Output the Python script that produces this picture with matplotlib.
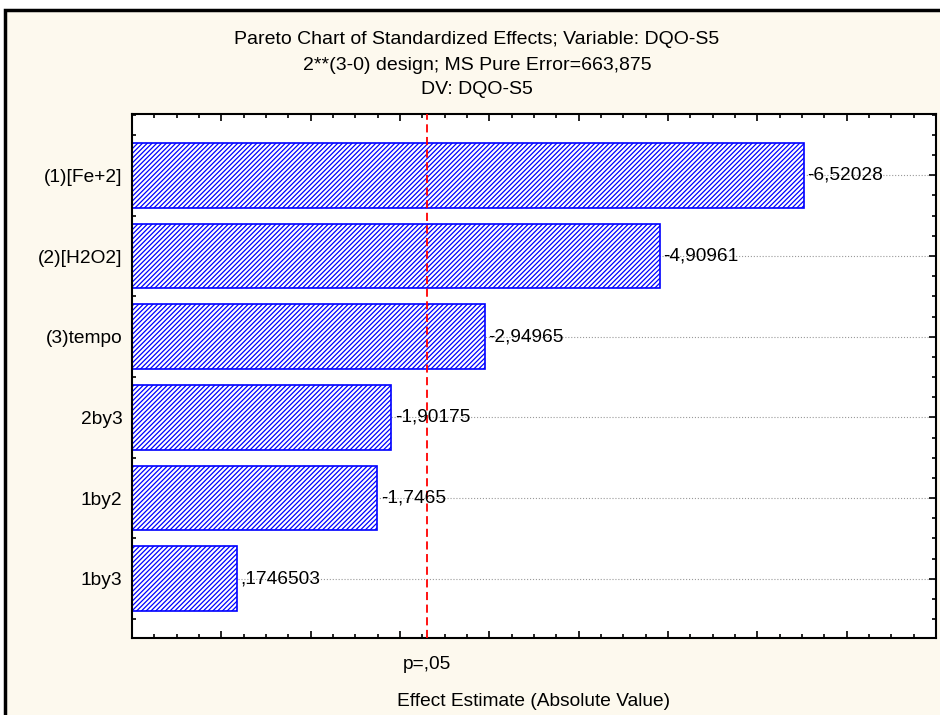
import numpy as np
import matplotlib.pyplot as plt
import matplotlib.transforms as mtransforms
from matplotlib.patches import Rectangle
from matplotlib.ticker import MultipleLocator

plt.rcParams['font.family'] = ['Liberation Sans', 'DejaVu Sans']
plt.rcParams['hatch.linewidth'] = 0.9

# effects of the 2**(3-0) design, ordered by size
effects = ["(1)[Fe+2]", "(2)[H2O2]", "(3)tempo", "2by3", "1by2", "1by3"]
estimates = [-6.52028, -4.90961, -2.94965, -1.90175, -1.7465, 0.1746503]
t_crit = 2.306  # p=.05
x_lo, x_hi = -1.0, 8.0

cream = "#FDF9EE"
fs = 13.8


def stat_fmt(v):
    # statistica style: comma decimal, no leading zero
    s = repr(v).replace(".", ",")
    if abs(v) < 1:
        s = s.replace("0,", ",", 1)
    return s


fig = plt.figure(figsize=(9.4, 7.15), dpi=100, facecolor="white")
fig.add_artist(Rectangle((5 / 940, -0.02), 1.0, 705 / 715 + 0.02,
                         transform=fig.transFigure, facecolor=cream,
                         edgecolor="black", lw=2.5, zorder=-5))

ax = fig.add_axes([132 / 940, 1 - 638 / 715, (936 - 132) / 940, (638 - 114) / 715])
ax.set_facecolor("white")

y = np.arange(len(effects))
sizes = np.abs(estimates)
ax.barh(y, sizes - x_lo, left=x_lo, height=0.8, color="white",
        edgecolor="#0000FF", hatch="/" * 7, lw=1.2, zorder=2)

for yi, v, s in zip(y, sizes, estimates):
    ax.text(v + 0.04, yi, stat_fmt(s), ha="left", va="center", fontsize=fs, zorder=4)

ax.axvline(t_crit, color="#FF0000", ls=(0, (4.5, 2.5)), lw=1.3, zorder=3)

ax.set_xlim(x_lo, x_hi)
ax.set_ylim(5.734, -0.76)

ax.set_xticks(range(0, 9))
ax.set_xticklabels([])
ax.xaxis.set_minor_locator(MultipleLocator(0.25))
ax.set_yticks(y)
ax.set_yticklabels(effects, fontsize=fs)
ax.yaxis.set_minor_locator(MultipleLocator(0.25))
ax.tick_params(which="both", direction="in", top=True, right=True, width=1.2)
ax.tick_params(which="major", length=5)
ax.tick_params(which="minor", length=3)
ax.tick_params(axis="y", which="major", pad=7)

ax.yaxis.grid(True, which="major", ls=":", color="#9A9A9A", lw=0.8)
ax.set_axisbelow(True)
for sp in ax.spines.values():
    sp.set_linewidth(1.5)

trans = mtransforms.blended_transform_factory(ax.transData, ax.transAxes)
ax.text(t_crit, -0.034, "p=,05", transform=trans, ha="center", va="top", fontsize=fs)
ax.set_xlabel("Effect Estimate (Absolute Value)", fontsize=fs, labelpad=36)

fig.text(477 / 940, 1 - 40 / 715, "Pareto Chart of Standardized Effects; Variable: DQO-S5",
         ha="center", va="center", fontsize=14)
fig.text(477 / 940, 1 - 65 / 715, "2**(3-0) design; MS Pure Error=663,875",
         ha="center", va="center", fontsize=14)
fig.text(477 / 940, 1 - 89 / 715, "DV: DQO-S5", ha="center", va="center", fontsize=14)

fig.savefig("out.png", dpi=100, facecolor=fig.get_facecolor())
